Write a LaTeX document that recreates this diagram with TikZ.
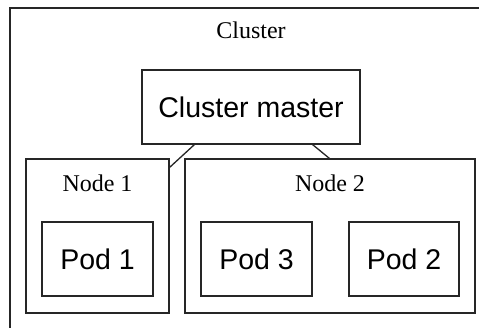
\documentclass[tikz,border=0pt]{standalone}
\usepackage{fontspec}
\setmainfont{Liberation Serif}
\newfontfamily\boxfont{Liberation Sans}
\usetikzlibrary{calc}
\tikzset{
  frame/.style={draw=black!85, line width=1.3pt, rectangle, inner sep=0pt},
  boxtext/.style={font=\boxfont\fontsize{28.5}{32}\selectfont},
  caption/.style={anchor=base, inner sep=0pt, font=\fontsize{24}{28}\selectfont},
  link/.style={draw=black!85, line width=1.3pt}
}
\begin{document}
\begin{tikzpicture}[x=1pt, y=-1pt]
  \clip (0,0) rectangle (479,327);
  \fill[white] (0,0) rectangle (479,327);

  % outer cluster frame (runs off the right and bottom)
  \node[frame, minimum width=480pt, minimum height=332pt] (cluster) at (250,174) {};
  \node[caption] (clusterlabel) at (251,38) {Cluster};

  % master
  \node[frame, boxtext, minimum width=218pt, minimum height=74pt] (master) at (251,107) {Cluster master};

  % worker nodes
  \node[frame, minimum width=143pt, minimum height=154pt] (n1) at (97.5,236) {};
  \node[frame, minimum width=290pt, minimum height=154pt] (n2) at (330,236) {};
  \node[caption] (n1label) at (97.5,191) {Node 1};
  \node[caption] (n2label) at (330,191) {Node 2};

  % pods
  \node[frame, boxtext, minimum width=111pt, minimum height=74pt] (pod1) at (97.5,259) {Pod 1};
  \node[frame, boxtext, minimum width=111pt, minimum height=74pt] (pod3) at (256.5,259) {Pod 3};
  \node[frame, boxtext, minimum width=110pt, minimum height=74pt] (pod2) at (404,259) {Pod 2};

  % master links
  \draw[link] ($(master.south west)+(53,0)$) -- ($(n1.north east)+(0,9)$);
  \draw[link] ($(master.south east)+(-48,0)$) -- ($(n2.north west)+(145,0)$);
\end{tikzpicture}
\end{document}
